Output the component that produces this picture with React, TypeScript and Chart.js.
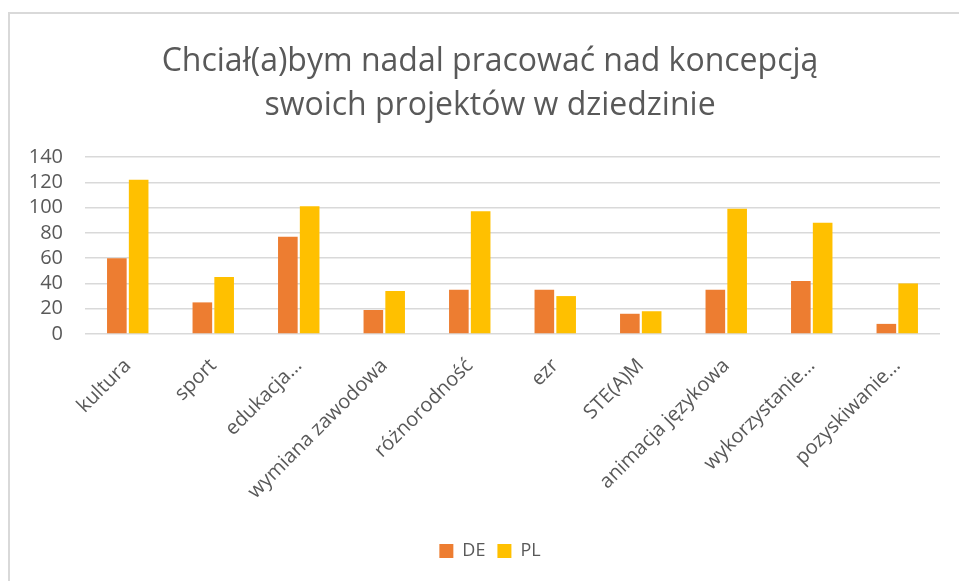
import React, { useEffect, useRef } from "react";
import { Chart, registerables } from "chart.js";

Chart.register(...registerables);

const titleLines = ["Chciał(a)bym nadal pracować nad koncepcją", "swoich projektów w dziedzinie"];
const categories = [
  "kultura",
  "sport",
  "edukacja…",
  "wymiana zawodowa",
  "różnorodność",
  "ezr",
  "STE(A)M",
  "animacja językowa",
  "wykorzystanie…",
  "pozyskiwanie…",
];
const seriesDE = [60, 25, 77, 19, 35, 35, 16, 35, 42, 8];
const seriesPL = [122, 45, 101, 34, 97, 30, 18, 99, 88, 40];
const yTicks = [0, 20, 40, 60, 80, 100, 120, 140];

const FONT = "'Open Sans', 'DejaVu Sans', sans-serif";
const TEXT = "#595959";

const framePlugin = {
  id: "frame",
  beforeDraw(chart: any) {
    const ctx = chart.ctx;
    ctx.save();
    ctx.fillStyle = "#ffffff";
    ctx.fillRect(0, 0, chart.width, chart.height);
    ctx.strokeStyle = "#d9d9d9";
    ctx.lineWidth = 2;
    ctx.beginPath();
    ctx.moveTo(9, chart.height + 5);
    ctx.lineTo(9, 13);
    ctx.lineTo(chart.width + 5, 13);
    ctx.stroke();
    ctx.restore();
  },
};

export default function App() {
  const ref = useRef<HTMLCanvasElement | null>(null);

  useEffect(() => {
    document.body.style.margin = "0";
    const canvas = ref.current;
    if (!canvas) return;
    const chart = new Chart(canvas, {
      type: "bar",
      data: {
        labels: categories,
        datasets: [
          {
            label: "DE",
            data: seriesDE,
            backgroundColor: "#ED7D31",
            barPercentage: 0.9,
            categoryPercentage: 0.51,
          },
          {
            label: "PL",
            data: seriesPL,
            backgroundColor: "#FFC000",
            barPercentage: 0.9,
            categoryPercentage: 0.51,
          },
        ],
      },
      plugins: [framePlugin],
      options: {
        responsive: false,
        animation: false,
        layout: { padding: { top: 39, left: 40, right: 19, bottom: 11 } },
        plugins: {
          title: {
            display: true,
            text: titleLines,
            color: TEXT,
            font: { family: FONT, size: 32, weight: "normal", lineHeight: 1.4 },
            padding: { top: 0, bottom: 28.4 },
          },
          legend: {
            position: "bottom",
            labels: {
              color: TEXT,
              font: { family: FONT, size: 18 },
              boxWidth: 14,
              boxHeight: 14,
              padding: 12,
            },
          },
          tooltip: { enabled: false },
        },
        scales: {
          x: {
            grid: { display: false },
            border: { display: false },
            ticks: {
              color: TEXT,
              font: { family: FONT, size: 20 },
              minRotation: 45,
              maxRotation: 45,
              autoSkip: false,
              padding: 12,
            },
            afterFit(scale: any) {
              scale.height = 196;
            },
          },
          y: {
            min: 0,
            max: 140,
            afterBuildTicks(scale: any) {
              scale.ticks = yTicks.map((v) => ({ value: v }));
            },
            grid: { color: "#d9d9d9", lineWidth: 1.5, drawTicks: false },
            border: { display: false },
            ticks: {
              color: TEXT,
              font: { family: FONT, size: 20 },
              padding: 22,
              autoSkip: false,
            },
            afterFit(scale: any) {
              scale.width = 45;
              // let the tick labels extend beyond the narrowed axis box
              scale._computeLabelArea = () => undefined;
            },
          },
        },
      },
    });
    return () => chart.destroy();
  }, []);

  return (
    <div style={{ width: 959, height: 581 }}>
      <canvas ref={ref} width={959} height={581} style={{ display: "block" }} />
    </div>
  );
}
